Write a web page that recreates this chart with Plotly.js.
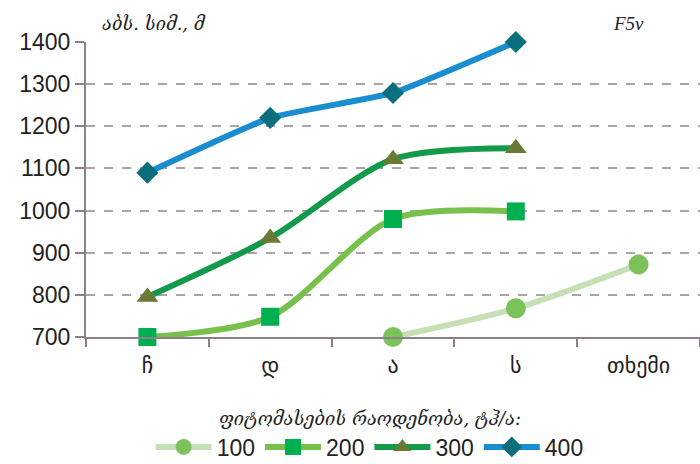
<!DOCTYPE html>
<html><head><meta charset="utf-8">
<script src="https://cdn.plot.ly/plotly-3.0.1.min.js"></script>
<style>html,body{margin:0;padding:0;background:#fff}#c{width:700px;height:464px}</style>
</head><body><div id="c"></div>
<script>
const categories = ["ჩ", "დ", "ა", "ს", "თხემი"];
const seriesNames = ["100", "200", "300", "400"];
const s100 = [null, null, 700, 768, 872];
const s200 = [700, 748, 980, 998, null];
const s300 = [795, 935, 1122, 1148, null];
const s400 = [1090, 1220, 1279, 1400, null];
const yTicks = [700, 800, 900, 1000, 1100, 1200, 1300, 1400];

const styles = [
  {line: "#c6e0b5", marker: "#7cc25a", symbol: "circle", size: 20, smooth: 0.8},
  {line: "#76c04b", marker: "#00b050", symbol: "square", size: 18, smooth: 0.8},
  {line: "#12994a", marker: "#687a33", symbol: "triangle-up", size: 19, smooth: 0.8},
  {line: "#1a8cd0", marker: "#0b6e7c", symbol: "diamond", size: 17, smooth: 0.4}
];
const data = [s100, s200, s300, s400].map((ys, i) => ({
  x: categories, y: ys, name: seriesNames[i], type: "scatter", mode: "lines+markers",
  connectgaps: false, cliponaxis: false,
  line: {color: styles[i].line, width: 6, shape: "spline", smoothing: styles[i].smooth},
  marker: {color: styles[i].marker, symbol: styles[i].symbol, size: styles[i].size, line: {width: 0}}
}));

const layout = {
  width: 700, height: 464,
  margin: {l: 86, r: 0, t: 42, b: 127, autoexpand: false},
  paper_bgcolor: "#fff", plot_bgcolor: "#fff",
  font: {family: "Liberation Sans, DejaVu Sans, sans-serif", color: "#222"},
  showlegend: true,
  legend: {orientation: "h", x: 0.462, xanchor: "center", y: -0.30, yanchor: "top",
    font: {size: 23, color: "#222"}, itemwidth: 56, tracegroupgap: 0, itemclick: false},
  xaxis: {type: "category", range: [-0.5, 4.5], showline: true, linecolor: "#8a7f8a", linewidth: 2,
    ticks: "outside", tickson: "boundaries", ticklen: 8, tickcolor: "#8a7f8a", tickwidth: 2,
    ticklabelstandoff: 8, automargin: false,
    showgrid: false, tickfont: {size: 22, color: "#222", family: "DejaVu Sans, sans-serif"}},
  yaxis: {range: [700, 1400], tickvals: yTicks, ticktext: yTicks.map(String), showline: true, linecolor: "#8a7f8a",
    linewidth: 2, ticks: "outside", ticklen: 9, tickcolor: "#8a7f8a", tickwidth: 2, automargin: false,
    showgrid: true, gridcolor: "#aaa4aa", gridwidth: 2, griddash: "dash", zeroline: false,
    tickfont: {size: 23, color: "#222"}},
  annotations: [
    {text: "<i>აბს. სიმ., მ</i>", xref: "paper", yref: "paper", x: 0.022, y: 1.0, xanchor: "left", yanchor: "bottom",
      yshift: 6, showarrow: false, font: {size: 18, color: "#222", family: "DejaVu Serif, serif"}},
    {text: "<i>F5v</i>", xref: "paper", yref: "paper", x: 0.855, y: 1.0, xanchor: "left", yanchor: "bottom",
      yshift: 6, showarrow: false, font: {size: 19, color: "#222", family: "Liberation Serif, serif"}},
    {text: "<i>ფიტომასების რაოდენობა, ტჰ/ა:</i>", xref: "paper", yref: "paper", x: 0.462, y: -0.235, xanchor: "center",
      yanchor: "top", showarrow: false, font: {size: 18, color: "#222", family: "DejaVu Serif, serif"}}
  ]
};
Plotly.newPlot("c", data, layout, {displayModeBar: false, staticPlot: true});
</script></body></html>
